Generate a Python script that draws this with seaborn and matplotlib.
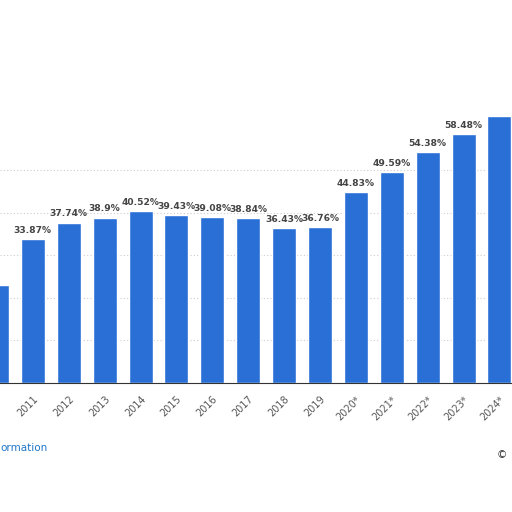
import matplotlib
matplotlib.use("Agg")
import matplotlib.pyplot as plt
import seaborn as sns
import pandas as pd

years = ["2010", "2011", "2012", "2013", "2014", "2015", "2016", "2017", "2018", "2019",
         "2020*", "2021*", "2022*", "2023*", "2024*"]
values = [23.0, 33.87, 37.74, 38.9, 40.52, 39.43, 39.08, 38.84, 36.43, 36.76,
          44.83, 49.59, 54.38, 58.48, 62.8]
labels = ["", "33.87%", "37.74%", "38.9%", "40.52%", "39.43%", "39.08%", "38.84%", "36.43%",
          "36.76%", "44.83%", "49.59%", "54.38%", "58.48%", ""]

df = pd.DataFrame({"year": years, "value": values})
sns.set_style("white")
fig = plt.figure(figsize=(5.12, 5.12), dpi=100)
ax = fig.add_axes([0, 0.252, 1, 0.581])
sns.barplot(data=df, x="year", y="value", color="#2a6fd6", saturation=1, width=0.67, ax=ax)
for i, (v, l) in enumerate(zip(values, labels)):
    if l:
        ax.text(i, v + 1.0, l, ha="center", va="bottom", fontsize=6.6, fontweight="bold", color="#444444")
ax.set_xlim(0.084, 14.35)
ax.set_ylim(0, 70)
ax.set_yticks([10, 20, 30, 40, 50])
ax.yaxis.grid(True, color="#cccccc", linestyle=(0, (1, 2)), linewidth=0.8)
ax.set_axisbelow(True)
ax.tick_params(axis="y", left=False, labelleft=False)
ax.set_xlabel("")
ax.set_ylabel("")
plt.setp(ax.get_xticklabels(), rotation=45, ha="right", rotation_mode="anchor", fontsize=7, color="#555555")
ax.tick_params(axis="x", length=0, pad=8)
for s in ["top", "right", "left"]:
    ax.spines[s].set_visible(False)
ax.spines["bottom"].set_color("#333333")
fig.text(0.0, 0.12, "ormation", fontsize=7.5, color="#1f77c8")
fig.text(0.97, 0.105, "©", fontsize=7.5, color="#333333")
fig.savefig("out.png", dpi=100)
